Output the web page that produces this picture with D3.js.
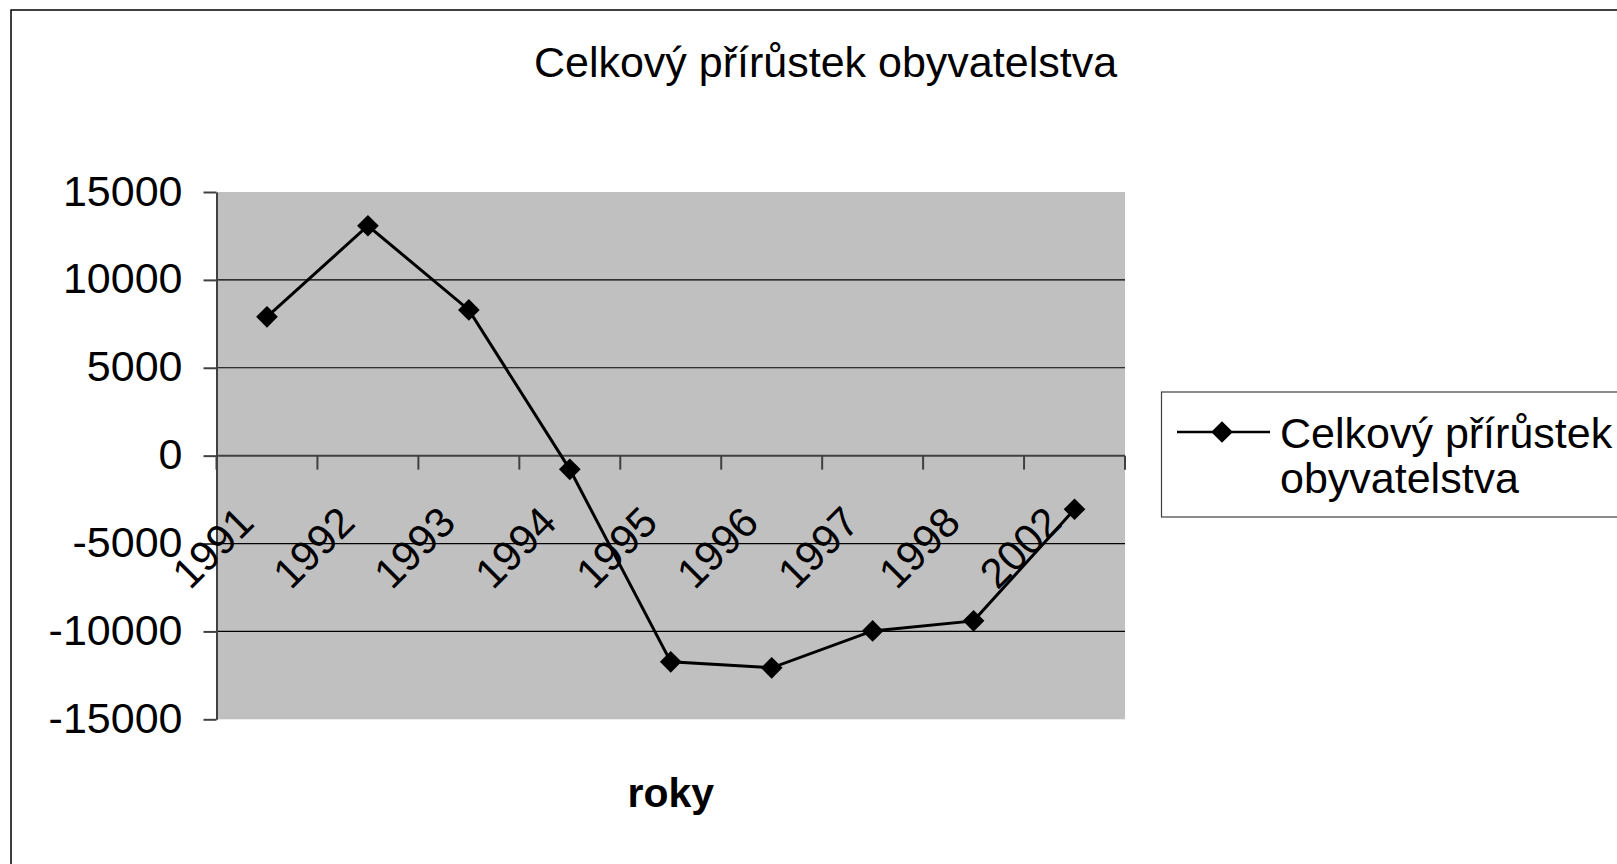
<!DOCTYPE html>
<head>
    <meta charset="utf-8">
    <script src="https://d3js.org/d3.v7.min.js"></script>
    <style>
        body { margin: 0; background: #fff; }
        text { font-family: "Liberation Sans", Arial, sans-serif; fill: #000; }
    </style>
</head>
<body>
    <script>
        // chart values
        const years = ["1991", "1992", "1993", "1994", "1995", "1996", "1997", "1998", "2002"]
        const growth = [7900, 13080, 8290, -780, -11730, -12070, -9970, -9400, -3050]
        const yTicks = [-15000, -10000, -5000, 0, 5000, 10000, 15000]
        const gridValues = [-10000, -5000, 5000, 10000]

        const titleText = "Celkový přírůstek obyvatelstva"
        const xTitle = "roky"
        const legendLines = ["Celkový přírůstek", "obyvatelstva"]

        let width = 1617,
            height = 864

        let svg = d3.select("body")
            .append("svg")
            .attr("width", width)
            .attr("height", height)

        //outer chart frame, runs off the right and bottom edge
        svg.append("rect")
            .attr("x", 11).attr("y", 10)
            .attr("width", 1700).attr("height", 1000)
            .attr("fill", "none")
            .attr("stroke", "#000")
            .attr("stroke-width", 1.5)

        ////////////// Scales //////////////
        const plot = { left: 216.5, right: 1125, top: 192, bottom: 719.3 }

        const x = d3.scaleBand()
            .domain(years)
            .range([plot.left, plot.right])

        const y = d3.scaleLinear()
            .domain([-15000, 15000])
            .range([plot.bottom, plot.top])

        //gray plot area
        svg.append("rect")
            .attr("x", plot.left).attr("y", plot.top)
            .attr("width", plot.right - plot.left)
            .attr("height", plot.bottom - plot.top)
            .attr("fill", "#c0c0c0")

        //gridlines
        svg.append("g").selectAll("line")
            .data(gridValues)
            .enter().append("line")
            .attr("x1", plot.left).attr("x2", plot.right)
            .attr("y1", d => y(d)).attr("y2", d => y(d))
            .attr("stroke", "#000")
            .attr("stroke-width", 1.2)

        ////////////// Y axis //////////////
        let yAxis = svg.append("g")
            .attr("transform", `translate(${plot.left},0)`)
            .call(d3.axisLeft(y).tickValues(yTicks).tickSize(13).tickSizeOuter(0).tickFormat(d => String(d)))
        yAxis.select(".domain").attr("stroke", "#404040").attr("stroke-width", 2)
        yAxis.selectAll(".tick line").attr("stroke", "#404040").attr("stroke-width", 2)
        yAxis.selectAll(".tick text")
            .attr("x", -34)
            .attr("dy", 13)
            .style("font-size", "43px")
            .style("font-family", "'Liberation Sans', Arial, sans-serif")
            .attr("fill", "#000")

        ////////////// X axis (at zero) //////////////
        let x0 = y(0)
        let xAxis = svg.append("g")
        xAxis.append("line")
            .attr("x1", plot.left).attr("x2", plot.right)
            .attr("y1", x0).attr("y2", x0)
            .attr("stroke", "#404040")
            .attr("stroke-width", 2)

        //ticks sit between categories
        let bounds = years.map(d => x(d)).concat([x.range()[1]])
        xAxis.selectAll(".xtick")
            .data(bounds)
            .enter().append("line")
            .attr("class", "xtick")
            .attr("x1", d => d).attr("x2", d => d)
            .attr("y1", x0).attr("y2", x0 + 14)
            .attr("stroke", "#404040")
            .attr("stroke-width", 2)

        xAxis.selectAll(".xlabel")
            .data(years)
            .enter().append("text")
            .attr("class", "xlabel")
            .attr("text-anchor", "end")
            .attr("transform", d => `translate(${x(d) + x.bandwidth() / 2 - 11},${x0 + 69}) rotate(-45)`)
            .style("font-size", "42px")
            .text(d => d)

        ////////////// Line + markers //////////////
        const pts = years.map((d, i) => [x(d) + x.bandwidth() / 2, y(growth[i])])

        svg.append("path")
            .datum(pts)
            .attr("d", d3.line())
            .attr("fill", "none")
            .attr("stroke", "#000")
            .attr("stroke-width", 3)

        const diamond = d3.symbol().type(d3.symbolSquare).size(235)

        svg.append("g").selectAll("path")
            .data(pts)
            .enter().append("path")
            .attr("d", diamond)
            .attr("transform", d => `translate(${d[0]},${d[1]}) rotate(45)`)
            .attr("fill", "#000")

        ////////////// Titles //////////////
        svg.append("text")
            .attr("x", 825.5).attr("y", 77)
            .attr("text-anchor", "middle")
            .style("font-size", "43px")
            .text(titleText)

        svg.append("text")
            .attr("x", (plot.left + plot.right) / 2).attr("y", 807)
            .attr("text-anchor", "middle")
            .style("font-size", "41px")
            .style("font-weight", "bold")
            .text(xTitle)

        ////////////// Legend //////////////
        let legend = svg.append("g")
        legend.append("rect")
            .attr("x", 1161.5).attr("y", 392)
            .attr("width", 600).attr("height", 125)
            .attr("fill", "#fff")
            .attr("stroke", "#404040")
            .attr("stroke-width", 1.2)

        legend.append("line")
            .attr("x1", 1177).attr("x2", 1270)
            .attr("y1", 432).attr("y2", 432)
            .attr("stroke", "#000")
            .attr("stroke-width", 2.5)

        legend.append("path")
            .attr("d", diamond)
            .attr("transform", "translate(1222,432) rotate(45)")
            .attr("fill", "#000")

        legend.selectAll(".ltext")
            .data(legendLines)
            .enter().append("text")
            .attr("class", "ltext")
            .attr("x", 1280)
            .attr("y", (d, i) => 448 + i * 45)
            .style("font-size", "43px")
            .text(d => d)
    </script>
</body>
